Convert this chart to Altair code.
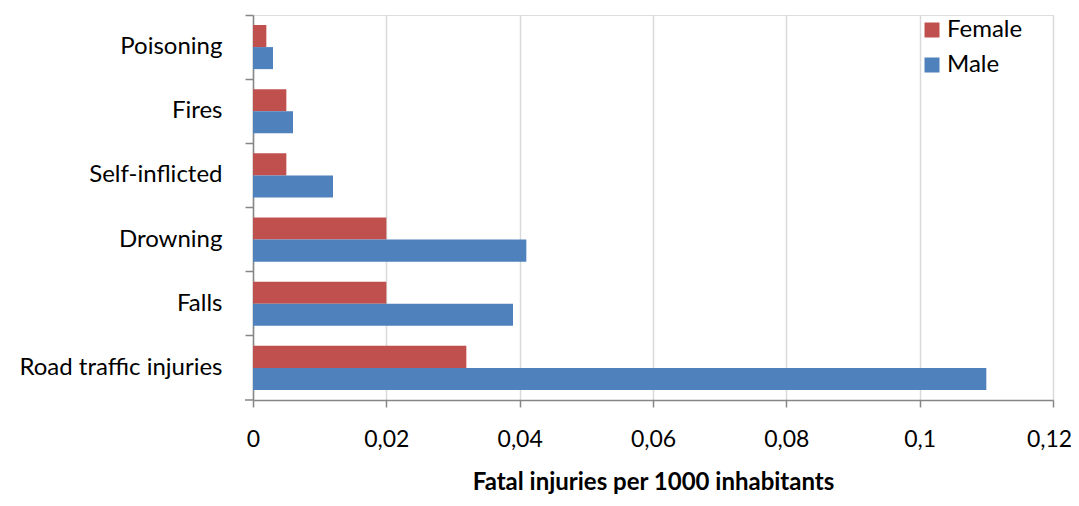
import altair as alt
import pandas as pd

categories = ["Poisoning", "Fires", "Self-inflicted", "Drowning", "Falls", "Road traffic injuries"]
female = [0.002, 0.005, 0.005, 0.020, 0.020, 0.032]
male = [0.003, 0.006, 0.012, 0.041, 0.039, 0.110]
series = ["Female", "Male"]
colors = ["#C0504D", "#4F81BD"]
x_ticks = [0, 0.02, 0.04, 0.06, 0.08, 0.1, 0.12]

rows = []
for c, f, m in zip(categories, female, male):
    rows.append({"cause": c, "sex": "Female", "value": f})
    rows.append({"cause": c, "sex": "Male", "value": m})
df = pd.DataFrame(rows)

FONT = "Lato"
W, H = 800, 385

bars = alt.Chart(df).mark_bar().encode(
    x=alt.X("value:Q",
            scale=alt.Scale(domain=[0, 0.12], nice=False, zero=True),
            axis=alt.Axis(values=x_ticks,
                          labelExpr="replace(format(datum.value, '.2~f'), '.', ',')",
                          title="Fatal injuries per 1000 inhabitants",
                          titleFont=FONT, titleFontSize=24, titleFontWeight="bold",
                          titleColor="#000000", titlePadding=19,
                          labelFont=FONT, labelFontSize=23, labelColor="#000000",
                          labelAlign="center", labelFlush=False,
                          labelOffset={"condition": {"test": "datum.value > 0.11", "value": -4},
                                       "value": 0},
                          labelPadding=21, tickSize=7, tickColor="#868686",
                          domainColor="#868686", domainWidth=1.5, tickWidth=1.5,
                          grid=True, gridColor="#D9D9D9", gridWidth=1.5)),
    y=alt.Y("cause:N", sort=categories,
            scale=alt.Scale(paddingInner=0, paddingOuter=0),
            axis=alt.Axis(title=None, bandPosition=0, labelFont=FONT, labelFontSize=24,
                          labelColor="#000000", labelPadding=23, tickSize=8,
                          labelLimit=400,
                          tickColor="#868686", domainColor="#868686",
                          domainWidth=1.5, tickWidth=1.5, grid=False)),
    yOffset=alt.YOffset("sex:N", sort=series,
                        scale=alt.Scale(paddingOuter=0.4545, paddingInner=0)),
    color=alt.Color("sex:N", sort=series,
                    scale=alt.Scale(domain=series, range=colors),
                    legend=alt.Legend(title=None, orient="none", legendX=667, legendY=3,
                                      symbolType="square", symbolSize=225,
                                      symbolStrokeWidth=0, labelFont=FONT,
                                      labelFontSize=24, labelColor="#000000",
                                      rowPadding=11, labelOffset=3, padding=0)),
)

corner_tick = alt.Chart(pd.DataFrame({"a": [0]})).mark_rule(
    color="#868686", strokeWidth=1.5
).encode(x=alt.value(-8), x2=alt.value(0), y=alt.value(H))

chart = alt.layer(bars, corner_tick).properties(
    width=W, height=H,
    autosize=alt.AutoSizeParams(type="none"),
    padding={"left": 245, "top": 7, "right": 18, "bottom": 97},
).configure_view(stroke=None).configure(background="white")

chart.save("out.html", embed_options={"renderer": "svg", "actions": False})
